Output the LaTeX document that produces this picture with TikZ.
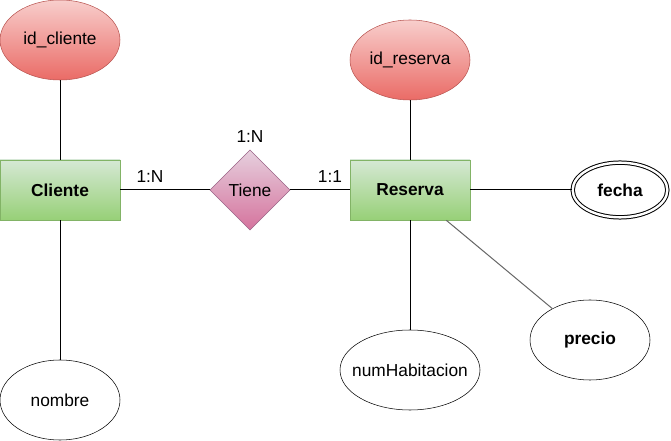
\documentclass[tikz,border=0pt]{standalone}
\usepackage{fontspec}
\setmainfont{Liberation Sans}
\usetikzlibrary{shapes.geometric}
\begin{document}
\begin{tikzpicture}[x=0.75pt,y=-0.75pt,
  every node/.style={font=\fontsize{13pt}{15pt}\selectfont},
  keyattr/.style={ellipse,draw={rgb,255:red,184;green,84;blue,80},top color={rgb,255:red,248;green,206;blue,204},bottom color={rgb,255:red,234;green,107;blue,102},
     minimum width=90pt,minimum height=60pt,inner sep=0pt},
  entity/.style={rectangle,draw={rgb,255:red,130;green,179;blue,102},top color={rgb,255:red,213;green,232;blue,212},bottom color={rgb,255:red,151;green,208;blue,119},
     minimum width=90pt,minimum height=45pt,inner sep=0pt,font=\fontsize{13pt}{15pt}\selectfont\bfseries},
  relation/.style={diamond,draw={rgb,255:red,153;green,97;blue,133},top color={rgb,255:red,230;green,208;blue,222},bottom color={rgb,255:red,213;green,115;blue,157},
     minimum width=60pt,minimum height=60pt,inner sep=0pt},
  attr/.style={ellipse,draw=black,fill=white,minimum width=90pt,minimum height=60pt,inner sep=0pt},
  conn/.style={draw=black,line width=0.75pt},
  card/.style={inner sep=0pt}
]
\useasboundingbox (0,0) rectangle (671,441);
% nodes
\node[keyattr] (idc) at (60,40) {\makebox[0pt]{id\_cliente}};
\node[entity] (cli) at (60,190) {Cliente};
\node[attr] (nom) at (60,400) {\makebox[0pt]{nombre}};
\node[relation] (tiene) at (250,190) {\makebox[0pt]{Tiene}};
\node[keyattr] (idr) at (410,60) {\makebox[0pt]{id\_reserva}};
\node[entity] (res) at (410,190) {Reserva};
\node[attr,minimum width=105pt] (num) at (410,370) {\makebox[0pt]{numHabitacion}};
\node[attr,font=\fontsize{13pt}{15pt}\selectfont\bfseries] (pre) at (590,340) {\makebox[0pt]{precio}};
\node[ellipse,draw=black,fill=white,double,double distance=1.8pt,line width=0.75pt,minimum width=71pt,minimum height=41pt,inner sep=0pt,font=\fontsize{13pt}{15pt}\selectfont\bfseries] (fec) at (620,190) {\makebox[0pt]{fecha}};
% labels
\node[card] (l1) at (250,137) {1:N};
\node[card] (l2) at (150,177) {1:N};
\node[card] (l3) at (330,177) {1:1};
% connectors
\draw[conn] (idc) -- (cli);
\draw[conn] (cli) -- (nom);
\draw[conn] (cli) -- (tiene);
\draw[conn] (tiene) -- (res);
\draw[conn] (idr) -- (res);
\draw[conn] (res) -- (fec);
\draw[conn] (res) -- (num);
\draw[conn,draw={rgb,255:red,102;green,102;blue,102}] (res) -- (pre);
\end{tikzpicture}
\end{document}
